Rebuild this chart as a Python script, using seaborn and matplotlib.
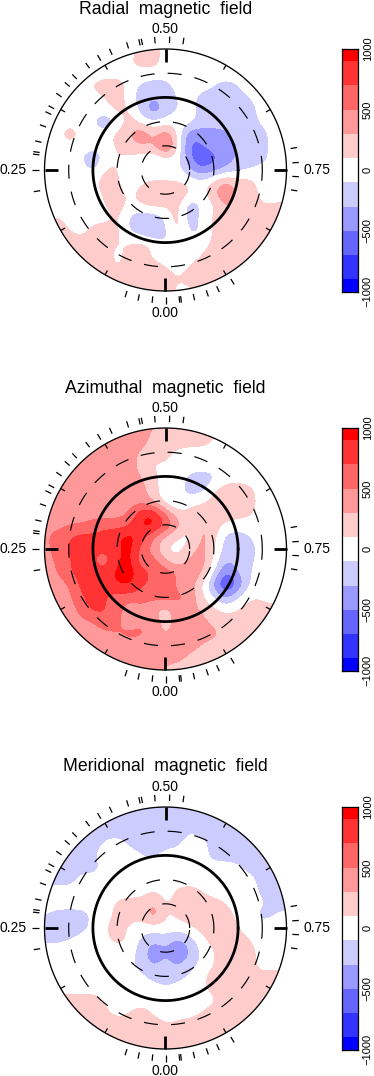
import numpy as np
import matplotlib
matplotlib.use("Agg")
import matplotlib.pyplot as plt
from matplotlib.colors import ListedColormap, BoundaryNorm
from matplotlib.patches import Circle
import seaborn as sns

# field maps, in hundreds of gauss
# rows run top to bottom, columns left to right, one cell every 12 px
radial = [
 [0,0,0,0,0,0,0,0,0,2,2,0,0,0,0,0,0,0,0,0,0,0,0],
 [0,0,0,0,0,0,0,0,0,2,2,0,0,0,0,0,0,0,0,0,0,0,0],
 [0,0,0,0,0,0,0,0,1,2,2,0,0,0,0,0,0,0,0,0,0,0,0],
 [0,0,0,0,0,0,0,0,0,0,0,0,0,0,0,0,0,0,0,0,0,0,0],
 [0,0,0,0,0,1.5,2.5,2.5,0,-1.5,-2,-2,0,0,0,-1,-2,-1,0,0,0,0,0],
 [0,0,0,0,0,0,1,2.5,-.5,-2,-3,-2,-1,0,-2,-2,-2,-2,-1,0,0,0,0],
 [0,0,0,0,0,0,0,2,1,-2,-5,-2,-1,0,-2,-2,-2,-2,-2,0,0,0,0],
 [0,0,0,0,0,-1,-3,-1,2.5,0,-.5,0,0,0,-2,-2,-2,-2,-2,-.5,0,0,0],
 [0,0,0,3,0,0,0,2,3,5.5,2,5,.5,-5,-4,-4,-3.5,-2,-2,-2,0,0,0],
 [0,0,0,0,0,0,0,1.5,2,3,3,7.5,1,-6,-5,-4,-4,-3,-2,-2,0,0,0],
 [0,0,0,0,-1,-3,0,1,.5,0,-1,.5,0,-5,-7,-5.5,-4.5,-2.5,-2,-2,0,0,0],
 [0,0,0,0,0,-1.5,1.5,1,0,0,0,0,0,-3,-5,-4,-2.5,-1.5,-1,0,0,0,0],
 [0,0,0,0,0,.5,2.5,1.5,-1.5,.5,1,1,1,1,-.5,2,4,2,2,0,0,0,0],
 [0,0,0,0,0,0,1.5,2.5,0,3,4,3,3,1,0,3,5,2.5,2,.5,0,0,0],
 [0,0,0,0,0,0,1,2.5,0,.5,1.5,1,2,-3,-.5,.5,3.5,2,2,1,1.5,1.5,1.5],
 [0,0,1.5,0,0,0,0,1.5,-1.5,-2.5,-2.5,-.5,2.5,-3,0,1.5,2,2,2,2,2,2,2],
 [2,2,2,1,0,2,2.5,1.5,-1.5,-2.5,-4.5,-1,2,-1.5,-1,1.5,2,2,2,2,2,2,2],
 [2,2,2,2,2,2,1.5,1,1,1.5,.5,-1,-2,-.5,0,1.5,2,2,2,2,2,2,2],
 [2,2,2,2,2,2,1.5,.5,1.5,2,.5,0,0,0,1,2,2,2,2,2,2,2,2],
 [2,2,2,2,2,2,2,.5,2,2,1.5,1,0,1,2,2,2,2,2,2,2,2,2],
 [2,2,2,2,2,2,2,2,2,2,2,2,1,2,2,2,2,2,2,2,2,2,2],
 [2,2,2,2,2,2,2,2,2,2,2,2,.5,.5,2,2,2,2,2,2,2,2,2],
 [2,2,2,2,2,2,2,2,2,2,2,2,.5,.5,2,2,2,2,2,2,2,2,2],
]
azimuthal = [
 [4,4,4,4,4,4,4,4,4,4,3,2,2,2,2,1,0,0,0,0,0,0,0],
 [4,4,4,4,4,4,4,4,4,4,3,2,2,2,2,1,0,0,0,0,0,0,0],
 [4,4,4,4,4,4,4,4,4,4,2,2,2,2,2,1,0,0,0,0,0,0,0],
 [4,4,4,4,4,4,4,4,4,2.5,2,1.5,.5,0,0,0,0,0,0,0,0,0,0],
 [4,4,4,4,4,4,4,4,4,2,.5,1,0,0,0,0,0,0,0,0,0,0,0],
 [4,4,4,4,4,4,4,4,4,3,1.5,0,0,-1.5,-2,-1.5,0,0,0,0,0,0,0],
 [4,4,4,4,4,4,4,4,4,4,1.5,0,0,-2,-2,.5,2,2,1.5,0,0,0,0],
 [4,4,4,4,4,4,4,4,4,4,2.5,-.5,-1.5,0,.5,2,3.5,3.5,2,0,0,0,0],
 [4,4,4,4,4,4,4,4,5,9,9,5,1.5,2,2.5,2,2,2,1.5,0,0,0,0],
 [4,4,4,5,5,6,6.5,6,7,9.5,10,7,4,.5,3.5,2,.8,0,0,0,0,0,0],
 [4.5,4.5,6.5,7,8,7.5,8,9,10,8,5,2.5,1,0,4,2,-2,-2,-1,0,0,0,0],
 [4,4,6.5,7,8.5,7.5,7.5,8.5,10,6,4,.5,0,2,4,1,-2,-3,-2,0,0,0,0],
 [4,4,5.5,7,8,7,5.5,9,10,5,6.5,3,1.5,3.5,4.5,.5,-3,-2,-1.5,0,0,0,0],
 [4,4,5,7,8,8,8,10,10,8,6.5,6.5,5,5,3.5,-1,-6,-3,-1,0,0,0,0],
 [4,4,4,5,8,8,7.5,9,9.5,7,6.5,8,3.5,4,1,-4,-8,-5,-.5,0,0,0,0],
 [4,4,4,4.5,7,8,7,6,6,6,6,6,6,4.5,1.5,-1,-4,-1,1,1,1,1,1],
 [4,4,4,4,6,8,7,6,3.5,4.5,3,2,4,4,2.5,1.5,.5,1,2,1,1,1,1],
 [4,4,4,4,4.5,5,7,5.5,3,5,4,2,4,4,4,2,2,2,2,2,2,2,2],
 [4,4,4,4,4,4,4.5,5,6,5.5,4,2.5,4,4,4,4,2,2,2,2,2,2,2],
 [4,4,4,4,4,4,4,4,4,4,4,4,4,4,3,2,2,2,2,2,2,2,2],
 [4,4,4,4,4,4,4,4,4,4,4,4,4,2.5,2,2,2,2,2,2,2,2,2],
 [4,4,4,4,4,4,4,4,4,4,4,2.5,2,2,2,2,2,2,2,2,2,2,2],
 [4,4,4,4,4,4,4,4,4,4,4,2.5,2,2,2,2,2,2,2,2,2,2,2],
]
meridional = [
 [-2,-2,-2,-2,-2,-2,-2,-2,-2,-2,-2,-2,-2,-2,-2,-2,-2,-2,-2,-2,-2,-2,-2],
 [-2,-2,-2,-2,-2,-2,-2,-2,-2,-2,-2,-2,-2,-2,-2,-2,-2,-2,-2,-2,-2,-2,-2],
 [-2,-2,-2,-2,-2,-2,-2,-2,-2,-2,-2,-2,-2,-2,-2,-2,-2,-2,-2,-2,-2,-2,-2],
 [-2,-2,-2,-2,-2,-2,-2,-2,-2,-2,-2,-2,-2,-1,-2,-2,-2,-2,-2,-2,-2,-2,-2],
 [-2,-2,-2,-2,-2,-2,-.5,0,-1.5,-2,-2,-2,-1.5,0,0,-2,-2,-2,-2,-2,-2,-2,-2],
 [-2,-2,-2,-2,-2,-1,0,0,0,-1,-1.5,0,0,0,0,-2,-2,-2,-2,-2,-2,-2,-2],
 [-2,-2,-2,-2,-2,-2,0,0,0,0,0,0,0,0,0,0,0,-.5,-2,-2,-2,-2,-2],
 [-2,-2,-2,-2,0,0,0,0,0,0,0,0,0,0,0,0,0,0,0,-2,-2,-2,-2],
 [0,0,0,0,0,0,0,0,0,0,1,0,1.5,2,1,0,0,0,0,-1.5,-2,-2,-2],
 [0,0,0,0,0,0,0,1.5,2,2,3.5,.5,2,2,2,2,1,0,0,-.5,-2,-2,-2],
 [-1,-1,-2,-2,-2,-.5,0,2,2,1.5,5,.5,1.5,2,2,2,2,.5,0,-2,-1,0,0],
 [-2,-2,-2,-2,-2,0,1,2,.5,0,0,.5,0,1,2,2,2,1,0,0,0,0,0],
 [-1.5,-1.5,-1.5,-1,0,0,.5,2,.5,-1.5,-2.5,-2,-3.5,-2,.5,2,2,2,1,0,0,0,0],
 [0,0,0,0,0,0,0,0,0,-2,-5,-3,-5.5,-3,-.5,1,2,2,2,0,0,0,0],
 [0,0,0,0,0,0,0,0,-.5,-2,-3.5,-2,-3.5,-2,-.5,1,2,2,2,0,0,0,0],
 [0,0,0,0,0,0,0,0,0,-.5,-2,-2,-2,-.5,.5,2,2,2,2,1.5,2,2,2],
 [0,0,0,0,0,0,0,0,0,0,0,-1,0,0,.5,2,2,2,2,2,2,2,2],
 [2,2,2,2,2,2,.5,0,0,0,0,0,0,0,0,.5,2,2,2,2,2,2,2],
 [2,2,2,2,2,2,1.5,0,1,2,.5,0,0,0,1,2,2,2,2,2,2,2,2],
 [2,2,2,2,2,2,2,2,2,2,2,1,1.5,2,2,2,2,2,2,2,2,2,2],
 [2,2,2,2,2,2,2,2,2,2,2,2,2,2,2,2,2,2,2,2,2,2,2],
 [2,2,2,2,2,2,2,2,2,2,2,2,2,2,2,2,2,2,2,2,2,2,2],
 [2,2,2,2,2,2,2,2,2,2,2,2,2,2,2,2,2,2,2,2,2,2,2],
]
titles = ["Radial  magnetic  field", "Azimuthal  magnetic  field", "Meridional  magnetic  field"]

# rotation phases of the observations, ticks outside the map
obs_phases = [0.0, 0.016, 0.033, 0.049, 0.224, 0.25, 0.269, 0.272, 0.285, 0.305, 0.322, 0.33, 0.3475,
              0.364, 0.377, 0.398, 0.415, 0.431, 0.453, 0.468, 0.471, 0.487, 0.505, 0.522,
              0.723, 0.741, 0.758, 0.775, 0.914, 0.934, 0.948, 0.965, 0.981, 0.983]
phase_labels = ["0.00", "0.25", "0.50", "0.75"]
colat_dashed = [30, 60, 120]
colat_equator = 90
colat_edge = 150

levels = [-1000, -900, -700, -500, -300, -100, 100, 300, 500, 700, 900, 1000]
colours = ["#0000ff", "#3333ff", "#6666ff", "#9999ff", "#ccccff", "#ffffff",
           "#ffcccc", "#ff9999", "#ff6666", "#ff3333", "#ff0000"]
bar_ticks = [-1000, -500, 0, 500, 1000]

sns.set_style("white", {"text.color": "black", "ytick.color": "black"})
plt.rcParams['font.family'] = ['Liberation Sans', 'DejaVu Sans']

W, H = 374, 1076
CX = 165.5
CYS = [170, 549, 928]
R = 121.0
CELL = 12.0
HALF = 11.5 * CELL

cmap = ListedColormap(colours)
norm = BoundaryNorm(levels, cmap.N, clip=True)
bar_values = np.arange(950, -1000, -100).reshape(-1, 1)


def px(r):
    return r * R / colat_edge


def draw_map(ax, field, title):
    data = np.array(field) * 100.0
    im = ax.imshow(data, extent=(-HALF, HALF, -HALF, HALF), origin="upper", cmap=cmap, norm=norm,
                   interpolation="bicubic", interpolation_stage="data")
    im.set_clip_path(Circle((0, 0), R, transform=ax.transData))

    t = np.linspace(0, 2 * np.pi, 500)
    ax.plot(R * np.cos(t), R * np.sin(t), color="k", lw=0.95)
    ax.plot(px(colat_equator) * np.cos(t), px(colat_equator) * np.sin(t), color="k", lw=2.0)
    for c in colat_dashed:
        ax.plot(px(c) * np.cos(t), px(c) * np.sin(t), color="k", lw=0.85, ls=(0, (12, 11)))

    # ticks on the rim, every 1/12 of a turn
    for i in range(12):
        a = 2 * np.pi * i / 12
        big = i % 3 == 0
        r0 = R - (13 if big else 5)
        ax.plot([r0 * np.cos(a), R * np.cos(a)], [r0 * np.sin(a), R * np.sin(a)],
                color="k", lw=2.0 if big else 0.9, solid_capstyle="butt")

    for p in obs_phases:
        a = 2 * np.pi * p
        sx, sy = -np.sin(a), -np.cos(a)
        ax.plot([127 * sx, 133.5 * sx], [127 * sy, 133.5 * sy], color="k", lw=0.9, solid_capstyle="butt")

    ax.text(0, -143, phase_labels[0], ha="center", va="center", fontsize=10)
    ax.text(-152, 0, phase_labels[1], ha="center", va="center", fontsize=10)
    ax.text(0, 141, phase_labels[2], ha="center", va="center", fontsize=10)
    ax.text(152, 0, phase_labels[3], ha="center", va="center", fontsize=10)
    ax.text(0, 161, title, ha="center", va="center", fontsize=12.7)

    ax.set_xlim(-140, 140)
    ax.set_ylim(-140, 140)
    ax.set_aspect("equal")
    ax.axis("off")


def draw_bar(ax):
    sns.heatmap(bar_values, ax=ax, cmap=cmap, norm=norm, cbar=False,
                xticklabels=False, yticklabels=False)
    for s in ax.spines.values():
        s.set_visible(True)
        s.set_color("k")
        s.set_linewidth(0.9)
    to_row = lambda v: (1000 - np.asarray(v, dtype=float)) / 100.0
    ax.set_yticks(to_row(bar_ticks))
    ax.set_yticklabels([str(v).replace("-", "\u2212") for v in bar_ticks], rotation=90,
                       va="center", fontsize=8)
    ax.set_yticks(to_row(np.arange(-900, 1000, 100)), minor=True)
    ax.yaxis.tick_right()
    ax.tick_params(axis="y", which="major", direction="in", left=True, right=True, length=3.4, width=0.8, pad=3.5)
    ax.tick_params(axis="y", which="minor", direction="in", left=True, right=True, length=2.2, width=0.8)


fig = plt.figure(figsize=(W / 100, H / 100), dpi=100)
for field, title, cy in zip([radial, azimuthal, meridional], titles, CYS):
    ax = fig.add_axes([(CX - 140) / W, 1 - (cy + 140) / H, 280 / W, 280 / H])
    draw_map(ax, field, title)
    cax = fig.add_axes([342 / W, 1 - (cy + 121.5) / H, 16 / W, 242.5 / H])
    draw_bar(cax)

fig.savefig("out.png", dpi=100)
